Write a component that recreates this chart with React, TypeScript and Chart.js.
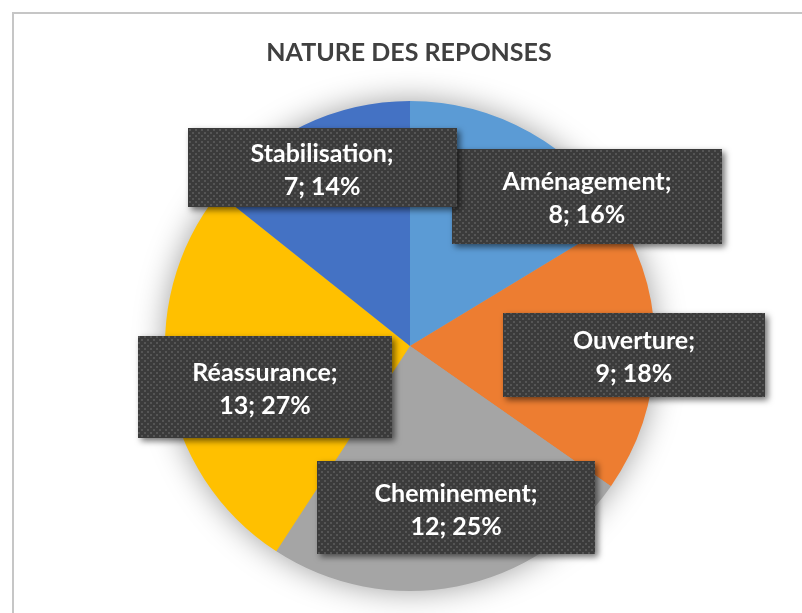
import React, { useEffect, useRef } from "react";
import { Chart, registerables } from "chart.js";

Chart.register(...registerables);

const titleText = "NATURE DES REPONSES";
const categories = ["Aménagement", "Ouverture", "Cheminement", "Réassurance", "Stabilisation"];
const counts = [8, 9, 12, 13, 7];
const percents = [16, 18, 25, 27, 14];
const sliceColors = ["#5B9BD5", "#ED7D31", "#A5A5A5", "#FFC000", "#4472C4"];

// label box layout: centre offset in units of pie radius, and box size in px
const labelOffsets = [
  [0.722, -0.612],
  [0.914, 0.037],
  [0.188, 0.661],
  [-0.592, 0.167],
  [-0.359, -0.727],
];
const labelSizes = [
  [270, 95],
  [262, 84],
  [278, 93],
  [254, 102],
  [269, 79],
];

const FONT = "Lato, 'Open Sans', sans-serif";

function makePattern(ctx: CanvasRenderingContext2D) {
  const c = document.createElement("canvas");
  c.width = 6;
  c.height = 6;
  const p = c.getContext("2d")!;
  p.fillStyle = "#3b3b3b";
  p.fillRect(0, 0, 6, 6);
  p.fillStyle = "#555555";
  p.fillRect(0, 0, 2, 2);
  p.fillRect(3, 3, 2, 2);
  return ctx.createPattern(c, "repeat")!;
}

const decorPlugin = {
  id: "decor",
  beforeDatasetsDraw(chart: any) {
    const ctx = chart.ctx as CanvasRenderingContext2D;
    const arc = chart.getDatasetMeta(0).data[0] as any;
    if (!arc) return;
    ctx.save();
    ctx.shadowColor = "rgba(0,0,0,0.4)";
    ctx.shadowBlur = 32;
    ctx.fillStyle = "#A5A5A5";
    ctx.beginPath();
    ctx.arc(arc.x, arc.y, arc.outerRadius - 1, 0, Math.PI * 2);
    ctx.fill();
    ctx.restore();
  },
  afterDatasetsDraw(chart: any) {
    const ctx = chart.ctx as CanvasRenderingContext2D;
    const meta = chart.getDatasetMeta(0);
    const pattern = makePattern(ctx);
    meta.data.forEach((arc: any, i: number) => {
      const r = arc.outerRadius;
      const cx = arc.x + labelOffsets[i][0] * r;
      const cy = arc.y + labelOffsets[i][1] * r;
      const [w, h] = labelSizes[i];
      const x0 = Math.round(cx - w / 2);
      const y0 = Math.round(cy - h / 2);
      ctx.save();
      ctx.shadowColor = "rgba(0,0,0,0.55)";
      ctx.shadowBlur = 6;
      ctx.shadowOffsetX = 3;
      ctx.shadowOffsetY = 3;
      ctx.fillStyle = pattern;
      ctx.fillRect(x0, y0, w, h);
      ctx.restore();
      ctx.save();
      ctx.fillStyle = "#FFFFFF";
      ctx.font = `bold 25px ${FONT}`;
      ctx.textAlign = "center";
      ctx.textBaseline = "middle";
      ctx.fillText(categories[i] + ";", cx, cy - 14);
      ctx.fillText(`${counts[i]}; ${percents[i]}%`, cx, cy + 19);
      ctx.restore();
    });
  },
  afterDraw(chart: any) {
    const ctx = chart.ctx as CanvasRenderingContext2D;
    ctx.save();
    ctx.fillStyle = "#404040";
    ctx.font = `bold 25px ${FONT}`;
    ctx.textAlign = "center";
    ctx.textBaseline = "middle";
    ctx.fillText(titleText, 409, 53);
    ctx.restore();
  },
};

export default function App() {
  const ref = useRef<HTMLCanvasElement>(null);
  useEffect(() => {
    const chart = new Chart(ref.current!, {
      type: "pie",
      data: {
        labels: categories,
        datasets: [
          {
            data: counts,
            backgroundColor: sliceColors,
            borderWidth: 0,
          },
        ],
      },
      options: {
        responsive: false,
        animation: false,
        layout: { padding: { top: 101, bottom: 22, left: 165, right: 147 } },
        plugins: {
          legend: { display: false },
          tooltip: { enabled: false },
        },
      },
      plugins: [decorPlugin],
    });
    return () => chart.destroy();
  }, []);
  return (
    <div style={{ position: "absolute", left: 0, top: 0, width: 802, height: 613, overflow: "hidden", background: "#fff" }}>
      <div
        style={{
          position: "absolute",
          left: 12,
          top: 12,
          width: 820,
          height: 640,
          border: "2px solid #C6C6C6",
          boxSizing: "border-box",
        }}
      />
      <canvas ref={ref} width={802} height={613} style={{ position: "absolute", left: 0, top: 0 }} />
    </div>
  );
}
